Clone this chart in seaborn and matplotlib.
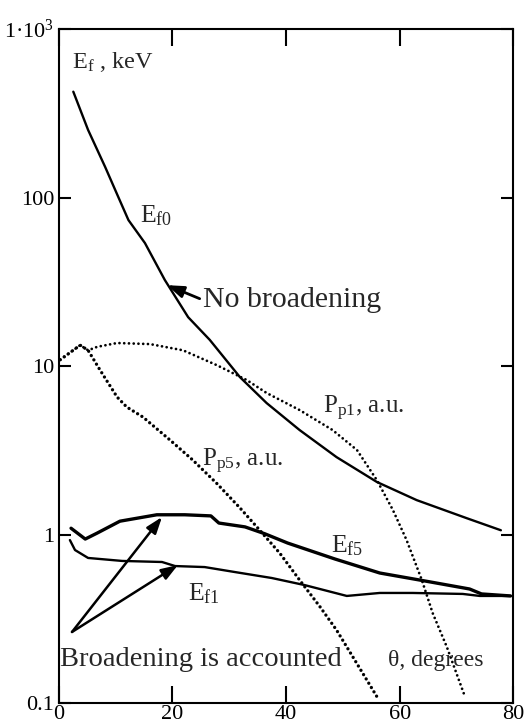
import numpy as np
import pandas as pd
import matplotlib
matplotlib.use("Agg")
import matplotlib.pyplot as plt
import seaborn as sns

# Scattering angle (degrees) and curve values
theta_f0 = [2.6, 5.2, 8.2, 10.5, 12.3, 15.2, 18.7, 22.8, 26.6, 31.9, 36.6, 42.4, 48.9, 56.0, 63.0, 71.8, 77.8]
E_f0 = [425, 252, 152, 101, 73.5, 53.7, 32.4, 19.5, 14.3, 8.6, 6.03, 4.17, 2.88, 2.05, 1.60, 1.25, 1.06]

theta_f5 = [2.2, 4.7, 6.8, 10.8, 17.3, 22.2, 26.8, 28.2, 32.8, 36.3, 40.3, 48.6, 56.5, 63.5, 72.3, 74.4, 79.5]
E_f5 = [1.09, 0.94, 1.02, 1.20, 1.31, 1.31, 1.29, 1.17, 1.11, 1.01, 0.89, 0.716, 0.591, 0.537, 0.475, 0.444, 0.432]

theta_f1 = [2.0, 2.9, 5.2, 11.2, 18.2, 20.5, 25.7, 31.0, 37.5, 43.3, 50.7, 56.5, 62.3, 71.1, 74.1, 79.5]
E_f1 = [0.927, 0.809, 0.726, 0.697, 0.687, 0.650, 0.641, 0.599, 0.552, 0.501, 0.432, 0.450, 0.450, 0.444, 0.432, 0.432]

theta_p1 = [0.3, 3.8, 5.2, 6.8, 10.3, 16.1, 21.9, 27.9, 33.1, 36.6, 42.4, 48.2, 52.5, 56.0, 58.8, 61.2, 63.9, 65.8, 68.3, 71.4]
P_p1 = [10.9, 13.3, 12.4, 13.0, 13.7, 13.5, 12.4, 10.1, 8.26, 6.92, 5.48, 4.17, 3.17, 2.10, 1.40, 0.93, 0.537, 0.342, 0.215, 0.111]

theta_p5 = [0.3, 3.8, 5.2, 7.3, 10.3, 12.0, 14.85, 19.6, 23.6, 27.9, 31.9, 35.4, 38.9, 42.4, 46.0, 48.9, 51.8, 56.0]
P_p5 = [10.9, 13.3, 12.4, 9.47, 6.55, 5.71, 4.98, 3.64, 2.77, 2.0, 1.44, 1.06, 0.776, 0.537, 0.372, 0.271, 0.187, 0.109]

y_ticks = [0.1, 1, 10, 100, 1000]
y_tick_labels = ["0.1", "1", "10", "100", "1·10$^{3}$"]
x_ticks = [0, 20, 40, 60, 80]
x_tick_labels = ["0", "20", "40", "60", "80"]

sns.set_style("white")
plt.rcParams["font.family"] = ["Liberation Serif", "DejaVu Serif"]
plt.rcParams["mathtext.fontset"] = "custom"
plt.rcParams["mathtext.rm"] = "Liberation Serif"
plt.rcParams["mathtext.it"] = "Liberation Serif:italic"
plt.rcParams["mathtext.bf"] = "Liberation Serif:bold"

fig = plt.figure(figsize=(5.32, 7.27), dpi=100)
ax = fig.add_axes([0.110, 0.033, 0.855, 0.927])


def draw(x, y, lw, ls="-"):
    df = pd.DataFrame({"theta": x, "value": y})
    kw = dict(color="black", linewidth=lw, estimator=None, sort=False, ax=ax)
    if ls == "-":
        sns.lineplot(data=df, x="theta", y="value", solid_capstyle="round",
                     solid_joinstyle="round", **kw)
    else:
        sns.lineplot(data=df, x="theta", y="value", linestyle=ls,
                     dash_capstyle="round", **kw)


draw(theta_f0, E_f0, 1.7)
draw(theta_f5, E_f5, 2.4)
draw(theta_f1, E_f1, 1.7)
draw(theta_p1, P_p1, 2.0, (0, (0.01, 1.7)))
draw(theta_p5, P_p5, 2.4, (0, (0.01, 1.5)))

ax.set_yscale("log")
ax.set_xlim(0, 80)
ax.set_ylim(0.1, 1000)
ax.set_xticks(x_ticks)
ax.set_xticklabels(x_tick_labels)
ax.set_yticks(y_ticks)
ax.set_yticklabels(y_tick_labels)
ax.minorticks_off()
ax.set_xlabel("")
ax.set_ylabel("")

for s in ax.spines.values():
    s.set_linewidth(1.5)
    s.set_color("black")
ax.tick_params(axis="both", which="major", direction="in", labelsize=16,
               width=1.5, colors="black", top=True, right=True,
               bottom=True, left=True)
ax.tick_params(axis="x", length=12, pad=1.5)
ax.tick_params(axis="y", length=8.5, pad=3)

# Curve labels
ax.text(2.37, 588, "E$_{\\mathrm{f}}$ , keV", fontsize=17.5, va="baseline")
ax.text(14.3, 70.9, "E$_{\\mathrm{f0}}$", fontsize=18.5, va="baseline")
ax.text(46.5, 5.26, "P$_{\\mathrm{p1}}$, a.u.", fontsize=18, va="baseline")
ax.text(25.2, 2.52, "P$_{\\mathrm{p5}}$, a.u.", fontsize=18, va="baseline")
ax.text(47.9, 0.781, "E$_{\\mathrm{f5}}$", fontsize=18.5, va="baseline")
ax.text(22.8, 0.408, "E$_{\\mathrm{f1}}$", fontsize=18.5, va="baseline")
ax.text(57.9, 0.166, "θ, degrees", fontsize=17, va="baseline")

head = dict(arrowstyle="-|>,head_length=0.45,head_width=0.16", color="black",
            shrinkA=0, shrinkB=0, mutation_scale=22)

ax.annotate("No broadening", xy=(19.1, 30.2), xytext=(25.4, 22.4),
            fontsize=21.5, va="baseline", ha="left",
            arrowprops=dict(head, lw=2.0, relpos=(0, 0.5)))

ax.text(0.33, 0.166, "Broadening is accounted", fontsize=20.5, va="baseline")
for tip in [(18.2, 1.27), (21.0, 0.659)]:
    ax.annotate("", xy=tip, xytext=(2.37, 0.264),
                arrowprops=dict(head, lw=1.8))

fig.savefig("out.png", dpi=100)
